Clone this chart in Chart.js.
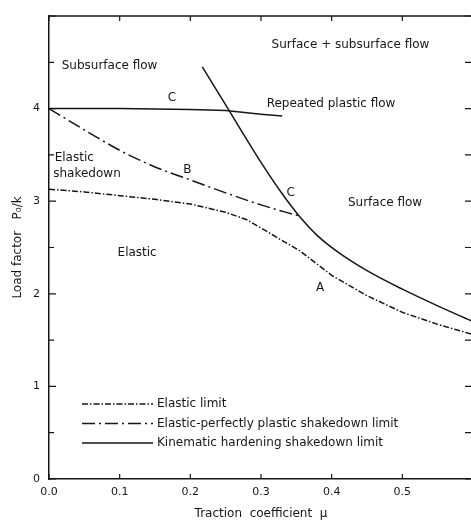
<!DOCTYPE html>
<html><head><meta charset="utf-8">
<script src="https://cdn.jsdelivr.net/npm/chart.js@4.4.1/dist/chart.umd.min.js"></script>
<style>
html,body{margin:0;padding:0;background:#fff;overflow:hidden;width:471px;height:522px}
#wrap{position:relative;width:480px;height:522px}
</style>
</head><body><div id="wrap"><canvas id="c" width="480" height="522"></canvas></div>
<script>
// ---- data ----
const xTickLabels = ['0.0','0.1','0.2','0.3','0.4','0.5'];
const yTickLabels = ['0','1','2','3','4'];

// A: elastic limit
const muElastic   = [0, 0.05, 0.1, 0.15, 0.2, 0.25, 0.28, 0.32, 0.354, 0.4, 0.45, 0.5, 0.55, 0.6];
const elasticLimit= [3.13, 3.10, 3.06, 3.02, 2.97, 2.88, 2.80, 2.62, 2.47, 2.20, 1.98, 1.80, 1.67, 1.56];

// B: elastic-perfectly plastic shakedown limit
const muEPP   = [0, 0.05, 0.1, 0.15, 0.2, 0.25, 0.3, 0.354];
const eppLimit= [4.0, 3.77, 3.55, 3.37, 3.23, 3.09, 2.96, 2.84];

// C: kinematic hardening shakedown limit (plateau + surface-flow branch)
const muKinFlat   = [0, 0.1, 0.2, 0.25, 0.3, 0.33];
const kinFlat     = [4.0, 4.0, 3.99, 3.98, 3.94, 3.92];
const muKinCurve  = [0.217, 0.25, 0.3, 0.33, 0.354, 0.381, 0.409, 0.45, 0.5, 0.55, 0.6];
const kinCurve    = [4.45, 4.04, 3.42, 3.08, 2.84, 2.62, 2.45, 2.25, 2.05, 1.87, 1.70];

const seriesNames = ['Elastic limit', 'Elastic-perfectly plastic shakedown limit', 'Kinematic hardening shakedown limit'];

// region / curve labels (data coordinates)
const regionLabels = [
  {t:'Subsurface flow',           x:0.018, y:4.46},
  {t:'Surface + subsurface flow', x:0.315, y:4.69},
  {t:'Repeated plastic flow',     x:0.308, y:4.05},
  {t:'C',                         x:0.168, y:4.12},
  {t:'Elastic',                   x:0.008, y:3.47},
  {t:'shakedown',                 x:0.006, y:3.30},
  {t:'B',                         x:0.190, y:3.34},
  {t:'C',                         x:0.336, y:3.09},
  {t:'Surface flow',              x:0.423, y:2.98},
  {t:'Elastic',                   x:0.097, y:2.44},
  {t:'A',                         x:0.378, y:2.06}
];

const FONT = '"DejaVu Sans", sans-serif';
const INK = '#161616';

const toXY = (xs, ys) => xs.map((x, i) => ({x, y: ys[i]}));

const dashA = [6, 2, 1.5, 2];
const dashB = [13, 4, 2, 4];

const datasets = [
  {label: seriesNames[0], data: toXY(muElastic, elasticLimit), borderDash: dashA, tension: 0},
  {label: seriesNames[1], data: toXY(muEPP, eppLimit), borderDash: dashB, cubicInterpolationMode: 'monotone'},
  {label: seriesNames[2], data: toXY(muKinFlat, kinFlat), borderDash: [], tension: 0},
  {label: seriesNames[2], data: toXY(muKinCurve, kinCurve), borderDash: [], cubicInterpolationMode: 'monotone', hideInLegend: true}
].map(d => Object.assign({borderColor: INK, borderWidth: 1.5, pointRadius: 0, fill: false}, d));

const decor = {
  id: 'decor',
  afterDraw(chart) {
    const {ctx, chartArea: a, scales: {x, y}} = chart;
    ctx.save();
    ctx.strokeStyle = INK;
    ctx.lineWidth = 1.5;
    // top frame line
    ctx.beginPath(); ctx.moveTo(a.left, a.top); ctx.lineTo(a.right, a.top); ctx.stroke();
    // inward ticks
    ctx.lineWidth = 1.2;
    x.ticks.forEach(t => {
      const px = x.getPixelForValue(t.value);
      ctx.beginPath();
      ctx.moveTo(px, a.bottom); ctx.lineTo(px, a.bottom - 5);
      ctx.moveTo(px, a.top); ctx.lineTo(px, a.top + 5);
      ctx.stroke();
    });
    y.ticks.forEach(t => {
      const py = y.getPixelForValue(t.value);
      const len = Number.isInteger(t.value) ? 7 : 5;
      ctx.beginPath();
      ctx.moveTo(a.left, py); ctx.lineTo(a.left + len, py);
      ctx.moveTo(a.right, py); ctx.lineTo(a.right - 8, py);
      ctx.stroke();
    });
    // region labels
    ctx.fillStyle = INK;
    ctx.font = '12px ' + FONT;
    ctx.textAlign = 'left';
    ctx.textBaseline = 'middle';
    regionLabels.forEach(l => ctx.fillText(l.t, x.getPixelForValue(l.x), y.getPixelForValue(l.y)));
    // legend (inside plot, lower left)
    const lx0 = a.left + 33, lx1 = a.left + 104, tx = a.left + 108;
    let ly = a.bottom - 75;
    chart.data.datasets.forEach(ds => {
      if (ds.hideInLegend) return;
      ctx.setLineDash(ds.borderDash || []);
      ctx.lineWidth = ds.borderWidth;
      ctx.beginPath(); ctx.moveTo(lx0, ly); ctx.lineTo(lx1, ly); ctx.stroke();
      ctx.setLineDash([]);
      ctx.fillText(ds.label, tx, ly);
      ly += 19.5;
    });
    ctx.restore();
  }
};

new Chart(document.getElementById('c'), {
  type: 'line',
  data: {datasets},
  options: {
    responsive: false,
    animation: false,
    devicePixelRatio: 1,
    layout: {padding: {top: 16, right: 4, left: 0, bottom: 0}},
    plugins: {legend: {display: false}, tooltip: {enabled: false}},
    scales: {
      x: {
        type: 'linear', position: 'bottom', min: 0, max: 0.6,
        grid: {display: false, drawTicks: false},
        border: {display: true, color: INK, width: 1.5},
        ticks: {
          stepSize: 0.1, autoSkip: false, maxRotation: 0, padding: 7,
          color: INK, font: {family: FONT, size: 11},
          callback: (v) => { const i = Math.round(v * 10); return xTickLabels[i] !== undefined ? xTickLabels[i] : ''; }
        },
        title: {display: true, text: 'Traction  coefficient  \u03bc', color: INK, font: {family: FONT, size: 12}, padding: {top: 4, bottom: 1}},
        afterFit: (s) => { s.height = 43; }
      },
      y: {
        type: 'linear', min: 0, max: 5,
        grid: {display: false, drawTicks: false},
        border: {display: true, color: INK, width: 1.5},
        ticks: {
          stepSize: 0.5, autoSkip: false, padding: 9,
          color: INK, font: {family: FONT, size: 11},
          callback: (v) => Number.isInteger(v) && yTickLabels[v] !== undefined ? yTickLabels[v] : ''
        },
        title: {display: true, text: 'Load factor   P\u2080/k', color: INK, font: {family: FONT, size: 12}, padding: {top: 11, bottom: 0}},
        afterFit: (s) => { s.width = 49; }
      }
    }
  },
  plugins: [decor]
});
</script>
</body></html>
